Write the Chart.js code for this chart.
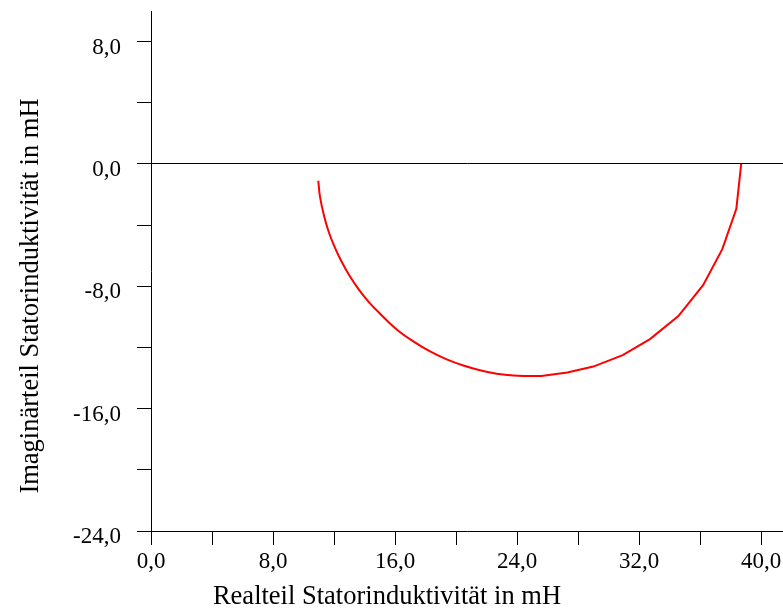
<!DOCTYPE html>
<html>
<head>
<meta charset="utf-8">
<script src="https://cdn.jsdelivr.net/npm/chart.js@4.4.1/dist/chart.umd.min.js"></script>
<style>
  html, body { margin: 0; padding: 0; background: #fff; }
  #wrap { width: 783px; height: 609px; position: relative; }
</style>
</head>
<body>
<div id="wrap"><canvas id="ortskurve"></canvas></div>
<script>
// Ortskurve der Statorinduktivität (Real- und Imaginärteil in mH)
const realPart = [10.97, 11.08, 11.36, 11.69, 12.04, 12.45, 13.00, 13.63, 14.30, 15.02,
                  16.11, 17.20, 18.30, 19.39, 20.48, 21.57, 22.67, 23.76, 24.85, 25.60,
                  27.30, 29.00, 30.93, 32.72, 34.58, 36.20, 37.46, 38.38, 38.70];
const imagPart = [-1.10, -2.14, -3.45, -4.55, -5.42, -6.30, -7.28, -8.22, -9.05, -9.79,
                  -10.82, -11.60, -12.26, -12.78, -13.18, -13.49, -13.72, -13.84, -13.86, -13.86,
                  -13.64, -13.25, -12.50, -11.45, -9.95, -7.93, -5.57, -2.93, 0.00];

// dicht abgetasteter Bereich (glatt) und grob abgetasteter Bereich (Polygonzug)
const denseEnd = 18;

const xTitle = 'Realteil Statorinduktivität in mH';
const yTitle = 'Imaginärteil Statorinduktivität in mH';

const tickStep = 4;      // Teilstriche
const labelStep = 8;     // beschriftete Teilstriche

const points = realPart.map((x, i) => ({ x, y: imagPart[i] }));
const densePts = points.slice(0, denseEnd + 1);
const coarsePts = points.slice(denseEnd);

const FONT = '"Liberation Serif", "Times New Roman", serif';

function fmt(v) {
  if (Math.abs(v / labelStep - Math.round(v / labelStep)) > 1e-6) return '';
  return v.toFixed(1).replace('.', ',');
}
function stepTicks(scale) {
  const ticks = [];
  const start = Math.ceil(scale.min / tickStep) * tickStep;
  for (let v = start; v <= scale.max + 1e-9; v += tickStep) ticks.push({ value: v });
  scale.ticks = ticks;
}
function noPad(scale) {
  scale.paddingTop = 0; scale.paddingBottom = 0;
  scale.paddingLeft = 0; scale.paddingRight = 0;
}

// Achsentitel, zentriert auf die Zeichenfläche
const axisTitles = {
  id: 'axisTitles',
  afterDraw(chart) {
    const ctx = chart.ctx;
    ctx.save();
    ctx.fillStyle = '#000';
    ctx.font = '26.5px ' + FONT;
    ctx.textAlign = 'center';
    ctx.textBaseline = 'alphabetic';
    ctx.fillText(xTitle, 387, 604);
    ctx.translate(38, 296);
    ctx.rotate(-Math.PI / 2);
    ctx.fillText(yTitle, 0, 0);
    ctx.restore();
  }
};

const lineStyle = {
  showLine: true,
  borderColor: '#ff0000',
  borderWidth: 2,
  pointRadius: 0,
  pointHoverRadius: 0,
  fill: false
};

new Chart(document.getElementById('ortskurve'), {
  type: 'scatter',
  data: {
    datasets: [
      Object.assign({ data: densePts, tension: 0.4 }, lineStyle),
      Object.assign({ data: coarsePts, tension: 0 }, lineStyle)
    ]
  },
  options: {
    responsive: true,
    maintainAspectRatio: false,
    animation: false,
    events: [],
    layout: { padding: { top: 11, right: 0, bottom: 0, left: 0 } },
    plugins: {
      legend: { display: false },
      tooltip: { enabled: false },
      title: { display: false }
    },
    scales: {
      x: {
        type: 'linear',
        min: 0,
        max: 41.44,
        afterBuildTicks: stepTicks,
        afterFit(scale) { scale.height = 78; noPad(scale); },
        border: { display: true, color: '#000', width: 1 },
        grid: {
          drawOnChartArea: false,
          drawTicks: true,
          tickLength: 14,
          tickColor: '#000',
          tickWidth: 1
        },
        ticks: {
          stepSize: tickStep,
          autoSkip: false,
          maxRotation: 0,
          padding: 3,
          color: '#000',
          font: { family: FONT, size: 23 },
          callback: v => fmt(v)
        }
      },
      y: {
        type: 'linear',
        min: -24,
        max: 10,
        afterBuildTicks: stepTicks,
        afterFit(scale) { scale.width = 151; noPad(scale); },
        border: { display: true, color: '#000', width: 1 },
        grid: {
          drawOnChartArea: true,
          color: c => (c.tick && c.tick.value === 0 ? '#000' : 'rgba(0,0,0,0)'),
          lineWidth: 1,
          drawTicks: true,
          tickLength: 14,
          tickColor: '#000',
          tickWidth: 1
        },
        ticks: {
          stepSize: tickStep,
          autoSkip: false,
          padding: 16,
          labelOffset: 6,
          color: '#000',
          font: { family: FONT, size: 23 },
          callback: v => fmt(v)
        }
      }
    }
  },
  plugins: [axisTitles]
});
</script>
</body>
</html>
